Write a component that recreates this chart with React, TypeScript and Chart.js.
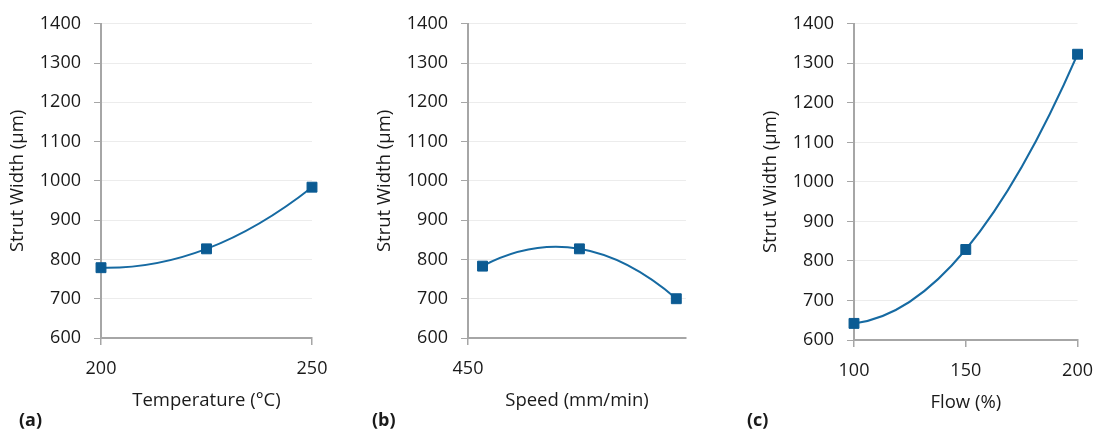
import React, { useEffect, useRef } from "react";
import { Chart, registerables } from "chart.js";

Chart.register(...registerables);

// ---- data ----
const temperatureX = [200, 225, 250];
const temperatureWidth = [779, 827, 984];
const temperatureTicks = [200, 250];

const speedX = [480, 680, 880];
const speedWidth = [783, 827, 700];
const speedTicks = [450];

const flowX = [100, 150, 200];
const flowWidth = [642, 829, 1323];
const flowTicks = [100, 150, 200];

const yTitle = "Strut Width (µm)";

// ---- styles ----
const W = 1106;
const H = 433;
const FONT = "'Open Sans', 'Liberation Sans', sans-serif";
const TEXT = "#1a1a1a";
const AXIS = "#a6a6a6";
const GRID = "#ececec";
const MARK = "#0b5b93";
const LINE = "#166aa2";

type PanelCfg = {
  x: number[];
  y: number[];
  xTicks: number[];
  xMin: number;
  xMax: number;
  xTitle: string;
  padLeft: number;
  left: number;
  right: number;
  top: number;
  bottom: number;
  axisBottom: number;
};

const panels: PanelCfg[] = [
  {
    x: temperatureX, y: temperatureWidth, xTicks: temperatureTicks,
    xMin: 200, xMax: 250, xTitle: "Temperature (°C)",
    padLeft: 7, left: 101, right: 312, top: 16, bottom: 338, axisBottom: 412,
  },
  {
    x: speedX, y: speedWidth, xTicks: speedTicks,
    xMin: 450, xMax: 900, xTitle: "Speed (mm/min)",
    padLeft: 374, left: 468, right: 686, top: 16, bottom: 338, axisBottom: 412,
  },
  {
    x: flowX, y: flowWidth, xTicks: flowTicks,
    xMin: 100, xMax: 200, xTitle: "Flow (%)",
    padLeft: 760, left: 854, right: 1081, top: 23, bottom: 340, axisBottom: 414,
  },
];

const panelLabels = [
  { text: "(a)", left: 19 },
  { text: "(b)", left: 372 },
  { text: "(c)", left: 747 },
];

// Smooth the line like a spreadsheet's 2nd-order curve: set the Bezier
// tangents of the line element from the parabola through its own points.
const parabolaSmoothing = {
  id: "parabolaSmoothing",
  beforeDatasetsDraw(chart: any) {
    const meta = chart.getDatasetMeta(0);
    const line = meta.dataset;
    const pts = meta.data;
    if (!line || pts.length !== 3) return;
    line.updateControlPoints(chart.chartArea, "x");
    const [p0, p1, p2] = pts;
    const h0 = p1.x - p0.x;
    const h1 = p2.x - p1.x;
    const s0 = (p1.y - p0.y) / h0;
    const s1 = (p2.y - p1.y) / h1;
    const f2 = (2 * (s1 - s0)) / (h0 + h1);
    const m = [s0 - (f2 * h0) / 2, s0 + (f2 * h0) / 2, s1 + (f2 * h1) / 2];
    const hs = [h0, h0, h1];
    const hn = [h0, h1, h1];
    pts.forEach((p: any, i: number) => {
      p.cp1x = p.x - hs[i] / 3;
      p.cp1y = p.y - (m[i] * hs[i]) / 3;
      p.cp2x = p.x + hn[i] / 3;
      p.cp2y = p.y + (m[i] * hn[i]) / 3;
    });
  },
};

function Panel({ cfg }: { cfg: PanelCfg }) {
  const ref = useRef<HTMLCanvasElement | null>(null);
  useEffect(() => {
    if (!ref.current) return;
    const font = { family: FONT, size: 18 };
    const chart = new Chart(ref.current, {
      type: "line",
      data: {
        datasets: [
          {
            data: cfg.x.map((x, i) => ({ x, y: cfg.y[i] })),
            borderColor: LINE,
            borderWidth: 2,
            tension: 0.4,
            pointStyle: "rect",
            pointRadius: 7,
            pointBackgroundColor: MARK,
            pointBorderColor: MARK,
            pointBorderWidth: 1,
            clip: false as any,
          },
        ],
      },
      plugins: [parabolaSmoothing],
      options: {
        responsive: false,
        animation: false,
        devicePixelRatio: 1,
        layout: {
          padding: {
            left: cfg.padLeft,
            right: W - cfg.right,
            top: cfg.top,
            bottom: H - cfg.axisBottom,
          },
        },
        plugins: { legend: { display: false }, tooltip: { enabled: false } },
        scales: {
          x: {
            type: "linear",
            min: cfg.xMin,
            max: cfg.xMax,
            afterBuildTicks: (s: any) => {
              s.ticks = cfg.xTicks.map((v) => ({ value: v }));
            },
            afterFit: (s: any) => {
              s.height = cfg.axisBottom - cfg.bottom;
            },
            grid: {
              drawOnChartArea: false,
              drawTicks: true,
              tickLength: 7,
              color: AXIS,
              lineWidth: 1.5,
            },
            border: { color: AXIS, width: 2 },
            ticks: {
              font,
              color: TEXT,
              padding: 13,
              maxRotation: 0,
              autoSkip: false,
              callback: (v: any) => String(v),
            },
            title: { display: true, text: cfg.xTitle, font: { family: FONT, size: 18.5 }, color: TEXT, padding: 0 },
          },
          y: {
            min: 600,
            max: 1400,
            afterFit: (s: any) => {
              s.width = cfg.left - cfg.padLeft;
            },
            grid: { color: GRID, tickColor: AXIS, tickLength: 7, lineWidth: 1 },
            border: { color: AXIS, width: 2 },
            ticks: { stepSize: 100, font, color: TEXT, padding: 13, callback: (v: any) => String(v) },
            title: { display: true, text: yTitle, font: { family: FONT, size: 18.5 }, color: TEXT, padding: 0 },
          },
        },
      },
    } as any);
    return () => chart.destroy();
  }, [cfg]);
  return (
    <canvas
      ref={ref}
      width={W}
      height={H}
      style={{ position: "absolute", left: 0, top: 0, width: W, height: H }}
    />
  );
}

export default function App() {
  return (
    <div
      style={{
        position: "fixed",
        left: 0,
        top: 0,
        width: W,
        height: H,
        background: "#ffffff",
        overflow: "hidden",
      }}
    >
      {panels.map((p, i) => (
        <Panel key={i} cfg={p} />
      ))}
      {panelLabels.map((l) => (
        <div
          key={l.text}
          style={{
            position: "absolute",
            left: l.left,
            top: 409,
            fontFamily: FONT,
            fontWeight: 700,
            fontSize: 18,
            lineHeight: "20px",
            color: TEXT,
          }}
        >
          {l.text}
        </div>
      ))}
    </div>
  );
}
